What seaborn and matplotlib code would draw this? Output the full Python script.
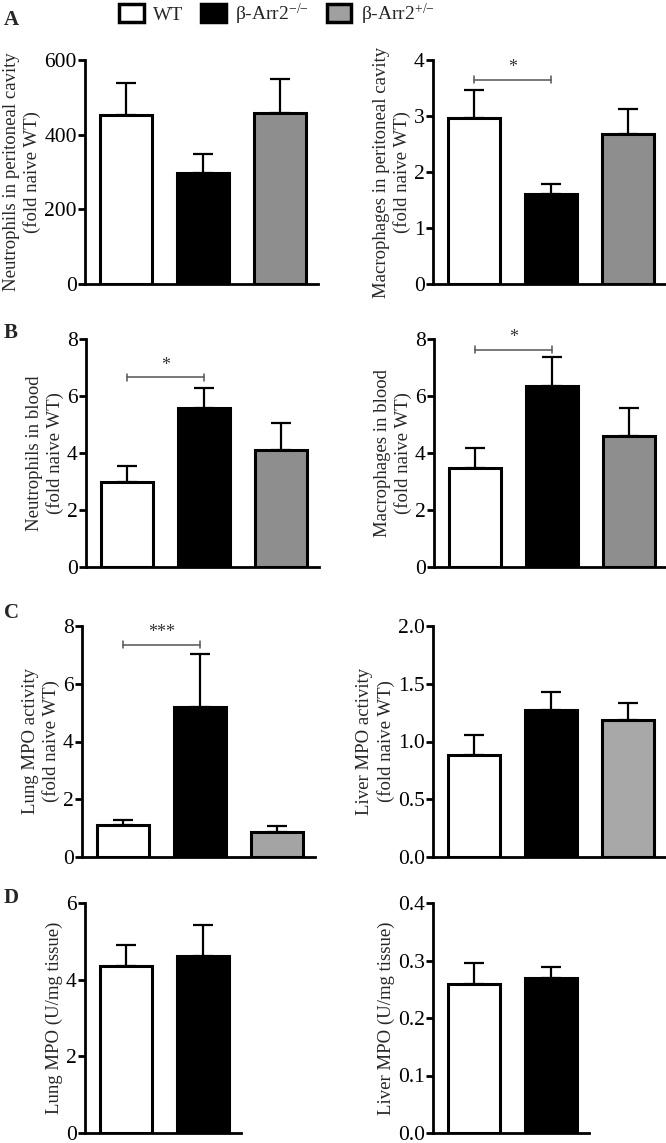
import matplotlib
matplotlib.use("Agg")
import matplotlib.pyplot as plt
import seaborn as sns
import pandas as pd
from matplotlib.patches import Patch

# ---------------- data ----------------
groups3 = ["WT", "β-Arr2-/-", "β-Arr2+/-"]
groups2 = ["WT", "β-Arr2-/-"]

a_neut_mean = [452, 296, 457]
a_neut_sem = [86, 51, 92]
a_mac_mean = [2.96, 1.60, 2.68]
a_mac_sem = [0.51, 0.19, 0.44]

b_neut_mean = [3.0, 5.57, 4.09]
b_neut_sem = [0.56, 0.70, 0.95]
b_mac_mean = [3.49, 6.36, 4.61]
b_mac_sem = [0.70, 1.01, 0.98]

c_lung_mean = [1.10, 5.18, 0.86]
c_lung_sem = [0.17, 1.86, 0.20]
c_liver_mean = [0.885, 1.27, 1.19]
c_liver_sem = [0.175, 0.16, 0.14]

d_lung_mean = [4.35, 4.63]
d_lung_sem = [0.56, 0.80]
d_liver_mean = [0.259, 0.269]
d_liver_sem = [0.036, 0.019]

# ---------------- style ----------------
sns.set_theme(style="ticks")
plt.rcParams["font.family"] = ["Liberation Serif", "DejaVu Serif"]
plt.rcParams["mathtext.fontset"] = "custom"
plt.rcParams["mathtext.rm"] = "Liberation Serif"
plt.rcParams["mathtext.it"] = "Liberation Serif:italic"

H = 1143.0
W = 666.0
fig = plt.figure(figsize=(6.66, 11.43), dpi=100)

def fx(px):
    return px / W

def fy(py):
    return 1 - py / H

rows = {"A": (60, 284), "B": (339, 567), "C": (626, 857), "D": (903, 1133)}
cat_px = 77.0

def make_ax(left_px, row, n):
    top, bot = rows[row]
    width_px = (n - 1 + 0.532 + 0.494) * cat_px
    return fig.add_axes([fx(left_px), fy(bot), width_px / W, (bot - top) / H])

panels = [
    ("A", 85, groups3, a_neut_mean, a_neut_sem, (0, 600), [0, 200, 400, 600], "{:.0f}",
     "Neutrophils in peritoneal cavity\n(fold naive WT)", None, "#8e8e8e"),
    ("A", 433, groups3, a_mac_mean, a_mac_sem, (0, 4), [0, 1, 2, 3, 4], "{:.0f}",
     "Macrophages in peritoneal cavity\n(fold naive WT)", (3.65, "*"), "#8e8e8e"),
    ("B", 86, groups3, b_neut_mean, b_neut_sem, (0, 8), [0, 2, 4, 6, 8], "{:.0f}",
     "Neutrophils in blood\n(fold naive WT)", (6.66, "*"), "#8e8e8e"),
    ("B", 434, groups3, b_mac_mean, b_mac_sem, (0, 8), [0, 2, 4, 6, 8], "{:.0f}",
     "Macrophages in blood\n(fold naive WT)", (7.62, "*"), "#8e8e8e"),
    ("C", 82, groups3, c_lung_mean, c_lung_sem, (0, 8), [0, 2, 4, 6, 8], "{:.0f}",
     "Lung MPO activity\n(fold naive WT)", (7.35, "***"), "#a4a4a4"),
    ("C", 433, groups3, c_liver_mean, c_liver_sem, (0, 2), [0, 0.5, 1.0, 1.5, 2.0], "{:.1f}",
     "Liver MPO activity\n(fold naive WT)", None, "#a8a8a8"),
    ("D", 85, groups2, d_lung_mean, d_lung_sem, (0, 6), [0, 2, 4, 6], "{:.0f}",
     "Lung MPO (U/mg tissue)", None, "#a4a4a4"),
    ("D", 433, groups2, d_liver_mean, d_liver_sem, (0, 0.4), [0, 0.1, 0.2, 0.3, 0.4], "{:.1f}",
     "Liver MPO (U/mg tissue)", None, "#a4a4a4"),
]

for row, left, groups, means, sems, ylim, yticks, fmt, ylabel, sig, gray in panels:
    n = len(groups)
    ax = make_ax(left, row, n)
    df = pd.DataFrame({"group": groups, "value": means})
    pal = {"WT": "white", "β-Arr2-/-": "black", "β-Arr2+/-": gray}
    sns.barplot(data=df, x="group", y="value", hue="group", palette=pal,
                dodge=False, legend=False, width=0.68, errorbar=None,
                edgecolor="black", linewidth=2.2, ax=ax, zorder=2)
    ax.errorbar(range(n), means, yerr=[[0] * n, sems], fmt="none",
                ecolor="black", elinewidth=1.6, capsize=7.5, capthick=1.6, zorder=1)
    ax.set_xlim(-0.532, n - 1 + 0.494)
    ax.set_ylim(*ylim)
    ax.set_yticks(yticks)
    ax.set_yticklabels([fmt.format(t) for t in yticks], fontsize=15.5)
    ax.set_xticks([])
    ax.set_xlabel("")
    ax.set_ylabel(ylabel, fontsize=13.5, labelpad=2, linespacing=1.25)
    for s in ["top", "right"]:
        ax.spines[s].set_visible(False)
    for s in ["left", "bottom"]:
        ax.spines[s].set_linewidth(2)
        ax.spines[s].set_color("black")
    ax.tick_params(axis="y", length=5, width=2, pad=1, colors="black")
    ax.set_facecolor("white")
    if sig is not None:
        y, star = sig
        d = 0.016 * ylim[1]
        ax.plot([0, 1], [y, y], color="#555555", lw=1.1, zorder=3)
        ax.plot([0, 0], [y - d, y + d], color="#555555", lw=1.1, zorder=3)
        ax.plot([1, 1], [y - d, y + d], color="#555555", lw=1.1, zorder=3)
        ax.text(0.5, y + 0.015 * ylim[1], star, ha="center", va="bottom",
                fontsize=13, color="#333333")

# panel letters
for letter, py in [("A", 20), ("B", 333), ("C", 613), ("D", 898)]:
    fig.text(fx(4), fy(py), letter, fontsize=15, fontweight="bold", va="center", ha="left")

# legend
handles = [Patch(facecolor="white", edgecolor="black", linewidth=2.5),
           Patch(facecolor="black", edgecolor="black", linewidth=2.5),
           Patch(facecolor="#a0a0a0", edgecolor="black", linewidth=2.5)]
labels = ["WT", r"β-Arr2$^{{-}/{-}}$", r"β-Arr2$^{{+}/{-}}$"]
fig.legend(handles, labels, loc="center", bbox_to_anchor=(fx(277), fy(14)), ncol=3,
           frameon=False, fontsize=14, handlelength=1.25, handleheight=1.0,
           columnspacing=0.9, handletextpad=0.5)

fig.savefig("out.png", dpi=100, facecolor="white")
